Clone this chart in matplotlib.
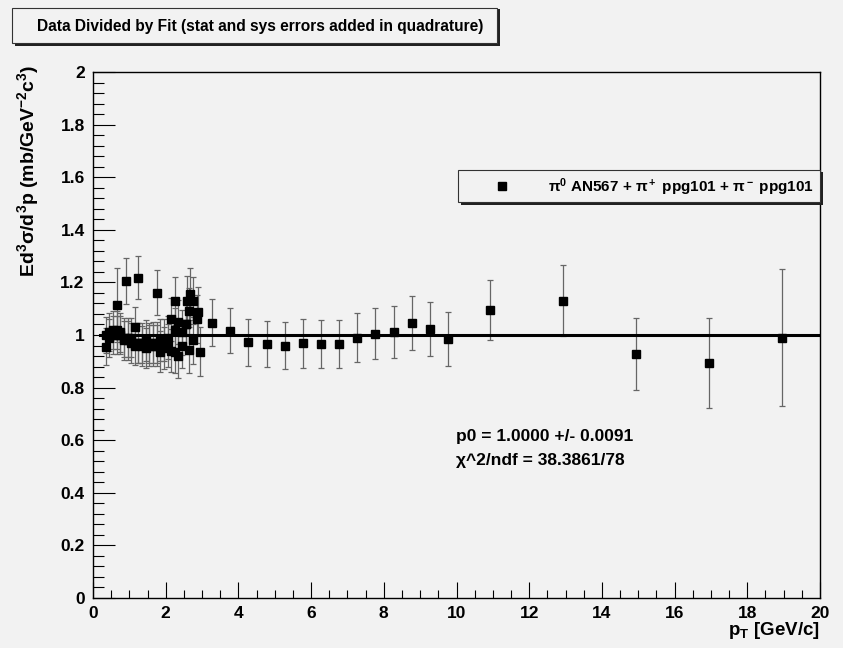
import numpy as np
import matplotlib
matplotlib.use('Agg')
import matplotlib.pyplot as plt
from matplotlib.patches import Rectangle
from matplotlib.ticker import MultipleLocator

# pi0 AN567 (low pT part + high pT tail)
pi0_pt = [0.65, 0.90, 1.25, 1.75, 2.26, 2.58, 2.67, 2.90, 3.27, 3.77, 4.27, 4.78, 5.27, 5.77,
          6.26, 6.77, 7.27, 7.77, 8.27, 8.77, 9.27, 9.77, 10.91, 12.93, 14.93, 16.94, 18.95]
pi0_ratio = [1.114, 1.205, 1.218, 1.161, 1.129, 1.131, 1.156, 1.089, 1.047, 1.016, 0.972, 0.966,
             0.959, 0.968, 0.965, 0.965, 0.990, 1.005, 1.010, 1.047, 1.022, 0.985, 1.094, 1.130,
             0.928, 0.892, 0.990]
pi0_err = [0.140, 0.088, 0.082, 0.086, 0.090, 0.095, 0.100, 0.092, 0.089, 0.086, 0.090, 0.089,
           0.089, 0.092, 0.091, 0.091, 0.094, 0.098, 0.099, 0.103, 0.103, 0.102, 0.114, 0.135,
           0.137, 0.171, 0.260]

# pi+ ppg101
pip_pt = [0.35, 0.45, 0.55, 0.65, 0.75, 0.85, 0.95, 1.05, 1.15, 1.25, 1.35, 1.45, 1.55,
          1.65, 1.75, 1.85, 1.95, 2.05, 2.15, 2.25, 2.35, 2.45, 2.55, 2.65, 2.75, 2.85]
pip_ratio = [1.00, 1.01, 1.00, 1.02, 1.01, 0.99, 0.98, 0.99, 1.03, 0.97, 0.97, 0.98, 0.97,
             0.96, 0.97, 0.98, 0.98, 0.99, 1.06, 1.02, 1.05, 1.01, 1.04, 1.09, 1.13, 1.06]
pip_err = [0.070, 0.072, 0.072, 0.073, 0.073, 0.074, 0.074, 0.075, 0.075, 0.076, 0.076, 0.077, 0.077,
           0.078, 0.078, 0.079, 0.080, 0.081, 0.082, 0.083, 0.084, 0.085, 0.086, 0.088, 0.090, 0.092]

# pi- ppg101
pim_pt = [0.35, 0.45, 0.55, 0.65, 0.75, 0.85, 0.95, 1.05, 1.15, 1.25, 1.35, 1.45, 1.55,
          1.65, 1.75, 1.85, 1.95, 2.05, 2.15, 2.25, 2.35, 2.45, 2.55, 2.65, 2.75, 2.95]
pim_ratio = [0.955, 0.99, 1.02, 1.00, 1.00, 0.98, 0.99, 0.97, 0.96, 0.97, 0.96, 0.95, 0.96,
             0.97, 0.96, 0.937, 0.95, 0.96, 0.94, 0.937, 0.92, 0.96, 1.04, 0.943, 0.98, 0.937]
pim_err = [0.070, 0.072, 0.072, 0.073, 0.073, 0.074, 0.074, 0.075, 0.075, 0.076, 0.076, 0.077, 0.077,
           0.078, 0.078, 0.079, 0.080, 0.081, 0.082, 0.083, 0.084, 0.085, 0.086, 0.088, 0.090, 0.092]

fit_p0 = 1.0
fit_range = [0.2, 20]

title = 'Data Divided by Fit (stat and sys errors added in quadrature)'
legend_label = r'$\pi^0$ AN567 + $\pi^+$ ppg101 + $\pi^-$ ppg101'
fit_text = ['p0 = 1.0000 +/- 0.0091', 'χ^2/ndf = 38.3861/78']

bg = '#f2f2f2'
W, H = 843, 648

plt.rcParams['font.family'] = ['Liberation Sans', 'DejaVu Sans']
plt.rcParams['font.weight'] = 'bold'
plt.rcParams['mathtext.fontset'] = 'custom'
plt.rcParams['mathtext.rm'] = 'Liberation Sans:bold'
plt.rcParams['mathtext.it'] = 'Liberation Sans:bold'
plt.rcParams['mathtext.bf'] = 'Liberation Sans:bold'
plt.rcParams['mathtext.default'] = 'rm'


def px(x, y):
    return x / W, 1 - y / H


fig = plt.figure(figsize=(W / 100, H / 100), dpi=100, facecolor=bg)
ax = fig.add_axes([93 / W, 1 - 598 / H, (820 - 93) / W, (598 - 72) / H], facecolor=bg)

for pt, ratio, err in [(pip_pt, pip_ratio, pip_err), (pim_pt, pim_ratio, pim_err), (pi0_pt, pi0_ratio, pi0_err)]:
    ax.errorbar(pt, ratio, yerr=err, fmt='s', color='black', markersize=5.5,
                ecolor='#666666', elinewidth=0.9, capsize=2, capthick=0.9, zorder=3)

ax.plot(fit_range, [fit_p0, fit_p0], color='black', linewidth=2.2, zorder=4)

ax.set_xlim(0, 20)
ax.set_ylim(0, 2)
ax.xaxis.set_major_locator(MultipleLocator(2))
ax.xaxis.set_minor_locator(MultipleLocator(0.5))
ax.yaxis.set_major_locator(MultipleLocator(0.2))
ax.yaxis.set_minor_locator(MultipleLocator(0.04))
ax.yaxis.set_major_formatter(plt.FuncFormatter(lambda v, p: f'{v:g}'))
ax.tick_params(axis='x', which='major', direction='in', length=11.5, width=0.8, labelsize=12.5, pad=6)
ax.tick_params(axis='x', which='minor', direction='in', length=5.8, width=0.8)
ax.tick_params(axis='y', which='major', direction='in', length=15.8, width=0.8, labelsize=12.5, pad=6)
ax.tick_params(axis='y', which='minor', direction='in', length=7.9, width=0.8)
for s in ax.spines.values():
    s.set_linewidth(1.0)

fig.text(*px(820, 641), r'p$_\mathrm{T}$ [GeV/c]', ha='right', va='bottom', fontsize=13.5)
fig.text(*px(28, 65), r'Ed$^3\sigma$/d$^3$p (mb/GeV$^{-2}$c$^3$)', rotation=90,
         ha='center', va='top', fontsize=14)

# title box with shadow
fig.add_artist(Rectangle(px(15, 46), 485 / W, 37 / H, transform=fig.transFigure,
                         facecolor='#222222', edgecolor='none'))
fig.add_artist(Rectangle(px(12, 43), 485 / W, 35 / H, transform=fig.transFigure,
                         facecolor=bg, edgecolor='#333333', linewidth=0.8))
fig.text(*px(260, 26), title, ha='center', va='center', fontsize=11.2)

# legend box with shadow
fig.add_artist(Rectangle(px(461, 205), 362 / W, 33 / H, transform=fig.transFigure,
                         facecolor='#222222', edgecolor='none', zorder=5))
fig.add_artist(Rectangle(px(458, 202), 362 / W, 32 / H, transform=fig.transFigure,
                         facecolor=bg, edgecolor='#333333', linewidth=0.8, zorder=6))
fig.lines.append(plt.Line2D([502 / W], [1 - 186 / H], marker='s', color='black', markersize=5.5,
                            transform=fig.transFigure, zorder=7))
fig.text(*px(548, 187), legend_label, ha='left', va='center', fontsize=11, zorder=7)

fig.text(*px(456, 437), fit_text[0], ha='left', va='center', fontsize=12.5)
fig.text(*px(456, 461), fit_text[1], ha='left', va='center', fontsize=12.5)

fig.savefig('out.png', dpi=100, facecolor=bg)
